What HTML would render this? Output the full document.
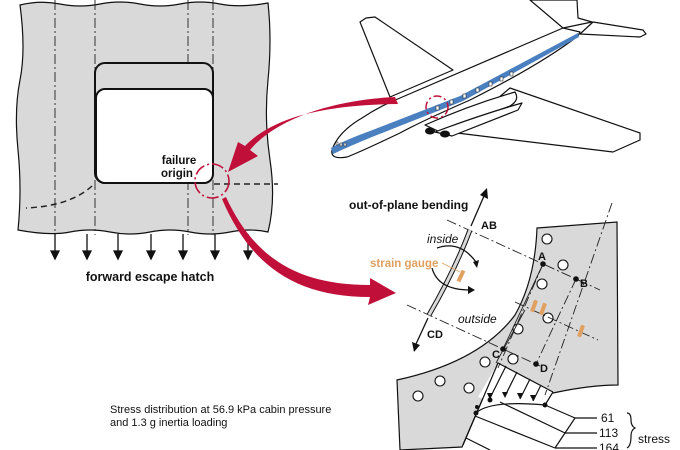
<!DOCTYPE html>
<html><head><meta charset="utf-8"><style>
html,body{margin:0;padding:0;background:#fff;}
svg{display:block;}
text{font-family:"Liberation Sans",Arial,sans-serif;}
</style></head><body>
<svg width="680" height="450" viewBox="0 0 680 450" xmlns="http://www.w3.org/2000/svg">
<!-- Left panel -->
<path d="M20,5 Q40,0 60,4 T100,4 T140,4 T180,4 T220,4 T268,3 Q272,40 268,80 T270,160 T268,232 Q250,228 230,232 T190,232 T150,232 T110,232 T70,232 T18,230 Q22,190 18,150 T20,80 T20,5 Z" fill="#d9d9d9" stroke="#111" stroke-width="1.2"/>
<g stroke="#222" stroke-width="0.9" stroke-dasharray="10,3,2,3" fill="none">
<line x1="55" y1="0" x2="55" y2="235"/>
<line x1="95" y1="0" x2="95" y2="235"/>
<line x1="188" y1="0" x2="188" y2="235"/>
<line x1="213" y1="0" x2="213" y2="235"/>
</g>
<rect x="95" y="63" width="118" height="120" rx="10" fill="#d9d9d9" stroke="#111" stroke-width="2"/>
<rect x="96" y="89" width="117" height="94" rx="9" fill="#fff" stroke="#111" stroke-width="2"/>
<g stroke="#222" stroke-width="1.5" fill="none" stroke-dasharray="6,4">
<line x1="214" y1="184" x2="278" y2="184"/>
<path d="M92,186 Q70,206 26,208"/>
</g>
<g stroke="#111" stroke-width="1.3" fill="#111">
<line x1="55" y1="234" x2="55" y2="255"/><path d="M51,251 L55,259 L59,251Z"/>
<line x1="87" y1="234" x2="87" y2="255"/><path d="M83,251 L87,259 L91,251Z"/>
<line x1="118" y1="234" x2="118" y2="255"/><path d="M114,251 L118,259 L122,251Z"/>
<line x1="151" y1="234" x2="151" y2="255"/><path d="M147,251 L151,259 L155,251Z"/>
<line x1="183" y1="234" x2="183" y2="255"/><path d="M179,251 L183,259 L187,251Z"/>
<line x1="215" y1="234" x2="215" y2="255"/><path d="M211,251 L215,259 L219,251Z"/>
<line x1="248" y1="234" x2="248" y2="255"/><path d="M244,251 L248,259 L252,251Z"/>
</g>
<text x="150" y="281" font-size="12.5" font-weight="bold" text-anchor="middle" fill="#111">forward escape hatch</text>
<text x="179" y="164" font-size="11.5" font-weight="bold" text-anchor="middle" fill="#111">failure</text>
<text x="177" y="177" font-size="11.5" font-weight="bold" text-anchor="middle" fill="#111">origin</text>
<circle cx="212" cy="181" r="17" fill="none" stroke="#c0103a" stroke-width="1.6" stroke-dasharray="12,3,2,3"/>

<!-- Plane -->
<g stroke="#111" stroke-width="1.2" fill="#fff" stroke-linejoin="round">
<path d="M563,28 L530,0 L577,0 L578,18 L592,22 Z"/>
<path d="M593,22 L643,30 L646,34 L640,37 L580,34 Z"/>
<path d="M390,97 L360,22 L366,18 L375,17 L453,70 Z"/>
<path d="M510,88 L640,133 L640,140 L613,152 L457,133 Z"/>
<path d="M332,150 Q338,132 362,118 Q380,106 400,98 L563,28 L580,32 L578,36 Q540,65 470,100 Q420,122 400,133 Q360,152 347,157 Q330,160 332,150 Z"/>
<path d="M425,125 Q470,105 515,92 Q520,100 510,106 L440,132 Z"/>
<path d="M435,132 Q480,115 522,103 L518,110 L452,136 Z"/>
</g>
<path d="M331,148 Q345,140 370,131 L460,96 L578,33 L579,37 L463,101 L372,137 Q350,146 333,154 Z" fill="#4a7fc0"/>
<ellipse cx="430" cy="131" rx="5" ry="3.5" fill="#111"/>
<ellipse cx="445" cy="134" rx="5" ry="3.5" fill="#111"/>
<g fill="#fff" stroke="#333" stroke-width="0.6">
<rect x="436" y="106" width="3" height="4"/><rect x="450" y="100" width="3" height="4"/><rect x="463" y="94" width="3" height="4"/><rect x="476" y="88" width="3" height="4"/><rect x="489" y="82" width="3" height="4"/><rect x="500" y="77" width="3" height="4"/><rect x="510" y="72" width="3" height="4"/>
<rect x="336" y="142" width="2" height="3"/><rect x="340" y="143" width="2" height="3"/><rect x="344" y="143" width="2" height="3"/>
</g>
<circle cx="437" cy="107" r="11" fill="none" stroke="#c0103a" stroke-width="1.5" stroke-dasharray="8,3,2,3"/>

<!-- red arrows -->
<path d="M395,97 C330,100 275,120 250,150 L258,156 L228,172 L238,142 L245,146 C275,115 330,105 398,104 Z" fill="#c0103a"/>
<path d="M226,197 C255,260 300,285 370,285 L370,278 L396,293 L368,305 L370,297 C295,297 250,265 222,199 Z" fill="#c0103a"/>

<!-- Right detail -->
<path d="M537,228 L617,222 L618,385 Q590,385 553,393 L520,391 L498,363 L462,447 L400,450 L397,380 Q480,362 515,315 Q535,280 537,228 Z" fill="#d9d9d9" stroke="#111" stroke-width="1.2"/>
<path d="M498,363 L553,392 L540,415 L478,397 Z" fill="#fff"/>
<g fill="#fff" stroke="#111" stroke-width="1.1">
<circle cx="547" cy="239" r="5"/><circle cx="563" cy="265" r="5"/><circle cx="542" cy="284" r="5"/><circle cx="548" cy="318" r="5"/><circle cx="518" cy="329" r="5"/><circle cx="485" cy="362" r="5"/><circle cx="513" cy="359" r="5"/><circle cx="440" cy="381" r="5"/><circle cx="469" cy="388" r="5"/><circle cx="418" cy="396" r="5"/>
</g>
<g stroke="#222" stroke-width="0.9" fill="none" stroke-dasharray="10,3,2,3">
<line x1="447" y1="220" x2="600" y2="290"/>
<line x1="407" y1="305" x2="540" y2="366"/>
<line x1="515" y1="302" x2="598" y2="340"/>
<line x1="612" y1="203" x2="545" y2="395"/>
<line x1="543" y1="264" x2="498" y2="368"/>
<line x1="576" y1="279" x2="536" y2="364"/>
</g>
<g stroke="#222" stroke-width="0.9" fill="none">
<line x1="543" y1="264" x2="503" y2="349"/>
<line x1="525" y1="310" x2="496" y2="363"/>
</g>
<g stroke="#111" stroke-width="1.2" fill="none">
<line x1="498" y1="363" x2="463" y2="445"/>
<line x1="498" y1="363" x2="553" y2="392"/>
<line x1="553" y1="392" x2="545" y2="405"/>
<path d="M476,413 Q490,400 545,405"/>
<line x1="506" y1="366" x2="490" y2="398"/>
<line x1="517" y1="372" x2="505" y2="396"/>
<line x1="530" y1="379" x2="520" y2="399"/>
<line x1="541" y1="385" x2="533" y2="401"/>
<line x1="545" y1="405" x2="575" y2="418"/>
<line x1="500" y1="402" x2="565" y2="433"/>
<line x1="475" y1="416" x2="555" y2="448"/>
<line x1="466" y1="438" x2="490" y2="450"/>
<line x1="575" y1="418" x2="555" y2="448"/>
<line x1="575" y1="418" x2="597" y2="418"/>
<line x1="565" y1="433" x2="597" y2="433"/>
<line x1="555" y1="448" x2="597" y2="448"/>
<path d="M627,413 Q631,413 631,420 Q631,426 635,428 Q631,430 631,436 Q631,446 627,448"/>
</g>
<g fill="#111">
<circle cx="476" cy="413" r="2.5"/><circle cx="490" cy="400" r="2.5"/><circle cx="545" cy="405" r="2.5"/><circle cx="477" cy="407" r="2"/>
<path d="M487,393 L490,400 L493,393Z"/><path d="M502,392 L505,398 L508,392Z"/><path d="M517,393 L520,399 L523,393Z"/><path d="M530,395 L533,401 L536,395Z"/>
<circle cx="543" cy="264" r="2.8"/><circle cx="576" cy="279" r="2.8"/><circle cx="503" cy="349" r="2.8"/><circle cx="536" cy="364" r="2.8"/>
</g>
<g font-size="11" font-weight="bold" fill="#111">
<text x="538" y="260">A</text><text x="580" y="287">B</text><text x="492" y="358">C</text><text x="540" y="372">D</text>
<text x="481" y="229">AB</text><text x="427" y="338">CD</text>
</g>
<path d="M470,230 Q455,270 429,315" stroke="#111" stroke-width="5" fill="none"/>
<path d="M470,230 Q455,270 429,315" stroke="#d9d9d9" stroke-width="3" fill="none"/>
<g stroke="#111" stroke-width="1.3" fill="none">
<line x1="471" y1="226" x2="484" y2="196"/>
<line x1="428" y1="318" x2="416" y2="344"/>
<path d="M437,248 Q460,240 476,262"/>
<path d="M432,268 Q438,290 470,290"/>
</g>
<g fill="#111">
<path d="M480,195 L487,188 L488,199Z"/><path d="M412,342 L414,352 L420,345Z"/>
<path d="M473,262 L477,268 L479,260Z"/><path d="M468,286 L475,290 L468,294Z"/>
</g>
<g fill="#e0a060">
<rect x="459" y="270" width="4" height="12" transform="rotate(25 461 276)"/>
<rect x="532" y="300" width="4" height="12" transform="rotate(20 534 306)"/>
<rect x="541" y="303" width="4" height="12" transform="rotate(20 543 309)"/>
<rect x="579" y="325" width="4" height="12" transform="rotate(20 581 331)"/>
</g>
<line x1="442" y1="263" x2="460" y2="272" stroke="#e0a060" stroke-width="0.8"/>
<text x="370" y="267" font-size="11.5" font-weight="bold" fill="#e0a060">strain gauge</text>
<text x="427" y="243" font-size="12" font-style="italic" fill="#111">inside</text>
<text x="458" y="323" font-size="12" font-style="italic" fill="#111">outside</text>
<text x="349" y="209" font-size="12" font-weight="bold" fill="#111">out-of-plane bending</text>
<text x="110" y="413" font-size="11" fill="#111">Stress distribution at 56.9 kPa cabin pressure</text>
<text x="110" y="426" font-size="11" fill="#111">and 1.3 g inertia loading</text>
<g font-size="12" fill="#111">
<text x="601" y="422">61</text><text x="599" y="437">113</text><text x="599" y="452">164</text><text x="638" y="443">stress</text>
</g>
</svg>
</body></html>
